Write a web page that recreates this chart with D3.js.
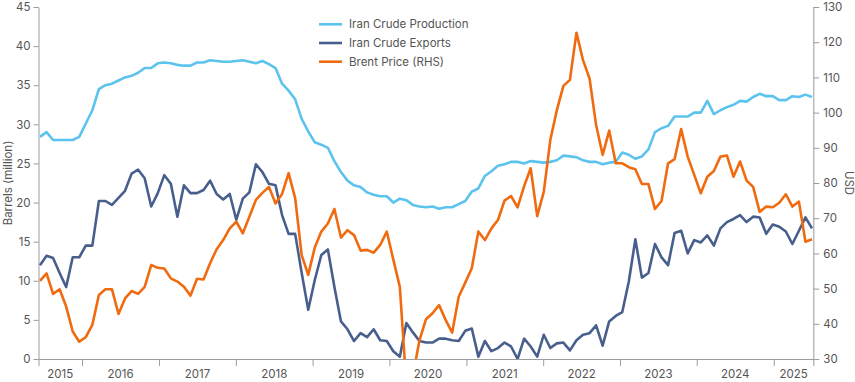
<!DOCTYPE html>
<html lang="en">
    <head>
        <meta charset="utf-8">
        <title>Iran crude production, exports and Brent</title>
        <script type="text/javascript" src="https://cdn.jsdelivr.net/npm/d3@7"></script>
        <style type="text/css">
            body {
                margin: 0;
                background: #fff;
            }
            svg text {
                font-family: Inter, "Noto Sans", sans-serif;
                fill: #555;
            }
            .axis path, .axis line {
                stroke: #9c9c9c;
            }
        </style>
    </head>
    <body>
        <script type="text/javascript">

            //Monthly series, Jul 2015 to May 2025
            var firstMonth = new Date(2015, 6, 1);
            var lastMonth = new Date(2025, 4, 1);
            var months = d3.timeMonth.range(firstMonth, d3.timeMonth.offset(lastMonth, 1));

            //Iran crude production, barrels (million)
            var production = [
                28.4, 29.0, 28.0, 28.0, 28.0, 28.0, 28.4, 30.1, 31.8, 34.5, 35.0, 35.2,
                35.6, 36.0, 36.2, 36.6, 37.2, 37.2, 37.8, 37.9, 37.8, 37.6, 37.5, 37.5,
                37.9, 37.9, 38.2, 38.1, 38.0, 38.0, 38.1, 38.2, 38.0, 37.8, 38.1, 37.7,
                37.2, 35.2, 34.3, 33.2, 30.7, 29.1, 27.7, 27.4, 27.0, 25.3, 23.9, 22.8,
                22.2, 22.0, 21.3, 21.0, 20.8, 20.8, 20.0, 20.5, 20.3, 19.7, 19.5, 19.4,
                19.5, 19.2, 19.4, 19.4, 19.8, 20.2, 21.4, 21.8, 23.4, 24.0, 24.7, 24.9,
                25.2, 25.2, 25.0, 25.3, 25.2, 25.1, 25.2, 25.4, 26.0, 25.9, 25.8, 25.4,
                25.2, 25.2, 24.9, 25.1, 25.2, 26.4, 26.1, 25.6, 25.9, 26.8, 29.0, 29.5,
                29.8, 31.0, 31.0, 31.0, 31.5, 31.5, 33.0, 31.3, 31.8, 32.2, 32.5, 33.0,
                32.9, 33.5, 33.9, 33.6, 33.6, 33.1, 33.1, 33.6, 33.5, 33.8, 33.5
            ];

            //Iran crude exports, barrels (million)
            var exports = [
                12.0, 13.2, 12.9, 11.0, 9.2, 13.0, 13.0, 14.5, 14.5, 20.2, 20.2, 19.7,
                20.6, 21.5, 23.7, 24.2, 23.1, 19.5, 21.2, 23.5, 22.4, 18.2, 22.2, 21.2,
                21.2, 21.6, 22.8, 21.1, 20.4, 21.1, 17.8, 20.5, 21.3, 24.9, 23.9, 22.4,
                22.2, 18.4, 16.0, 16.0, 11.0, 6.3, 10.1, 13.3, 14.0, 9.2, 4.8, 3.8,
                2.3, 3.3, 2.8, 3.8, 2.4, 2.3, 1.0, 0.3, 4.6, 3.4, 2.3, 2.1,
                2.1, 2.6, 2.6, 2.4, 2.3, 3.6, 3.9, 0.3, 2.3, 1.0, 1.4, 2.1,
                1.6, 0.0, 2.6, 1.6, 0.3, 3.1, 1.4, 2.0, 2.1, 1.1, 2.4, 3.1,
                3.3, 4.3, 1.7, 4.8, 5.5, 6.0, 9.9, 15.3, 10.4, 11.0, 14.7, 13.0,
                12.0, 16.1, 16.4, 13.5, 15.2, 14.9, 15.8, 14.5, 16.7, 17.5, 17.9, 18.4,
                17.5, 18.2, 18.1, 16.0, 17.2, 16.9, 16.3, 14.7, 16.4, 18.1, 16.7
            ];

            //Brent price, USD (right axis)
            var brent = [
                52.2, 54.3, 48.5, 49.8, 44.9, 37.8, 34.9, 36.2, 39.7, 48.2, 49.8, 49.8,
                42.8, 47.2, 49.3, 48.5, 50.5, 56.7, 55.9, 55.7, 52.9, 52.0, 50.5, 48.0,
                52.8, 52.6, 57.2, 61.2, 63.8, 67.1, 69.0, 65.7, 70.4, 75.2, 77.2, 78.9,
                74.2, 76.9, 82.8, 75.7, 59.5, 53.9, 61.7, 66.2, 68.5, 72.6, 64.5, 66.6,
                65.2, 60.8, 61.0, 60.2, 62.4, 66.2, 58.3, 50.5, 22.7, 25.3, 35.3, 41.3,
                43.0, 45.3, 41.1, 37.5, 47.7, 51.7, 55.8, 66.2, 63.8, 67.1, 69.5, 75.0,
                76.3, 73.1, 79.1, 84.2, 70.6, 77.5, 92.2, 100.7, 107.6, 109.3, 122.7, 114.9,
                109.7, 96.5, 88.0, 94.9, 85.6, 85.6, 84.5, 83.9, 79.7, 79.7, 72.6, 74.9,
                85.6, 86.8, 95.3, 87.5, 82.3, 77.1, 81.8, 83.4, 87.5, 87.8, 81.8, 86.1,
                80.7, 78.9, 71.8, 73.3, 73.1, 74.4, 76.8, 73.3, 74.7, 63.3, 64.0
            ];

            var leftTicks = [0, 5, 10, 15, 20, 25, 30, 35, 40, 45];
            var rightTicks = [30, 40, 50, 60, 70, 80, 90, 100, 110, 120, 130];
            var years = [2015, 2016, 2017, 2018, 2019, 2020, 2021, 2022, 2023, 2024, 2025];

            var seriesNames = ["Iran Crude Production", "Iran Crude Exports", "Brent Price (RHS)"];
            var colors = ["#5cc3ee", "#485f8d", "#f06b10"];

            //Width and height (plot edges)
            var w = 855;
            var h = 382;
            var plotLeft = 38.5, plotRight = 813.3, plotTop = 7, plotBottom = 359;

            var svg = d3.select("body")
                        .append("svg")
                        .attr("width", w)
                        .attr("height", h);

            //Scales
            var x = d3.scalePoint()
                      .domain(months.map(function(d) { return +d; }))
                      .range([40, 812]);

            var xAxisScale = d3.scaleTime()
                               .domain([new Date(2015, 5, 8), new Date(2025, 6, 8)])
                               .range([plotLeft, plotRight]);

            var yLeft = d3.scaleLinear().domain([0, 45]).range([plotBottom, plotTop]);
            var yRight = d3.scaleLinear().domain([30, 130]).range([plotBottom, plotTop]);

            //Axes
            var yearStarts = years.slice(1).map(function(y) { return new Date(y, 0, 1); });
            var bounds = [xAxisScale.domain()[0]].concat(yearStarts, [xAxisScale.domain()[1]]);

            svg.append("g")
                .attr("class", "axis")
                .attr("transform", "translate(0," + plotBottom + ")")
                .call(d3.axisBottom(xAxisScale)
                    .tickValues(bounds)
                    .tickSize(7)
                    .tickSizeOuter(0)
                    .tickFormat(""));

            svg.append("g")
                .selectAll("text")
                .data(years)
                .enter()
                .append("text")
                .attr("x", function(d, i) { return (xAxisScale(bounds[i]) + xAxisScale(bounds[i + 1])) / 2; })
                .attr("y", 378)
                .attr("text-anchor", "middle")
                .style("font-size", "11.5px")
                .text(function(d) { return d; });

            svg.append("g")
                .attr("class", "axis")
                .attr("transform", "translate(" + plotLeft + ",0)")
                .call(d3.axisLeft(yLeft)
                    .tickValues(leftTicks)
                    .tickSize(5)
                    .tickSizeOuter(0)
                    .tickPadding(3))
                .selectAll("text")
                .style("font-size", "11.5px");

            svg.append("g")
                .attr("class", "axis")
                .attr("transform", "translate(" + plotRight + ",0)")
                .call(d3.axisRight(yRight)
                    .tickValues(rightTicks)
                    .tickSize(6)
                    .tickSizeOuter(0)
                    .tickPadding(4))
                .selectAll("text")
                .style("font-size", "11.5px");

            //Axis titles
            svg.append("text")
                .attr("transform", "translate(12," + ((plotTop + plotBottom) / 2) + ") rotate(-90)")
                .attr("text-anchor", "middle")
                .style("font-size", "11.5px")
                .text("Barrels (million)");

            svg.append("text")
                .attr("transform", "translate(845," + ((plotTop + plotBottom) / 2) + ") rotate(90)")
                .attr("text-anchor", "middle")
                .style("font-size", "11.5px")
                .text("USD");

            //Clip lines to the plot area
            svg.append("clipPath")
                .attr("id", "plot")
                .append("rect")
                .attr("x", plotLeft)
                .attr("y", plotTop)
                .attr("width", plotRight - plotLeft)
                .attr("height", plotBottom - plotTop);

            function makeLine(values, yScale) {
                return d3.line()
                    .x(function(d, i) { return x(+months[i]); })
                    .y(function(d) { return yScale(d); })(values);
            }

            var lines = [
                makeLine(production, yLeft),
                makeLine(exports, yLeft),
                makeLine(brent, yRight)
            ];

            svg.append("g")
                .attr("clip-path", "url(#plot)")
                .selectAll("path")
                .data(lines)
                .enter()
                .append("path")
                .attr("d", function(d) { return d; })
                .attr("fill", "none")
                .attr("stroke", function(d, i) { return colors[i]; })
                .attr("stroke-width", 2.6)
                .attr("stroke-linejoin", "round");

            //Legend
            var legend = svg.append("g")
                .selectAll("g")
                .data(seriesNames)
                .enter()
                .append("g")
                .attr("transform", function(d, i) { return "translate(319," + (24.3 + i * 18.7) + ")"; });

            legend.append("line")
                .attr("x1", 0)
                .attr("x2", 23)
                .attr("stroke", function(d, i) { return colors[i]; })
                .attr("stroke-width", 2.6);

            legend.append("text")
                .attr("x", 30)
                .attr("dy", "0.35em")
                .style("font-size", "11.5px")
                .text(function(d) { return d; });

        </script>
    </body>
</html>
